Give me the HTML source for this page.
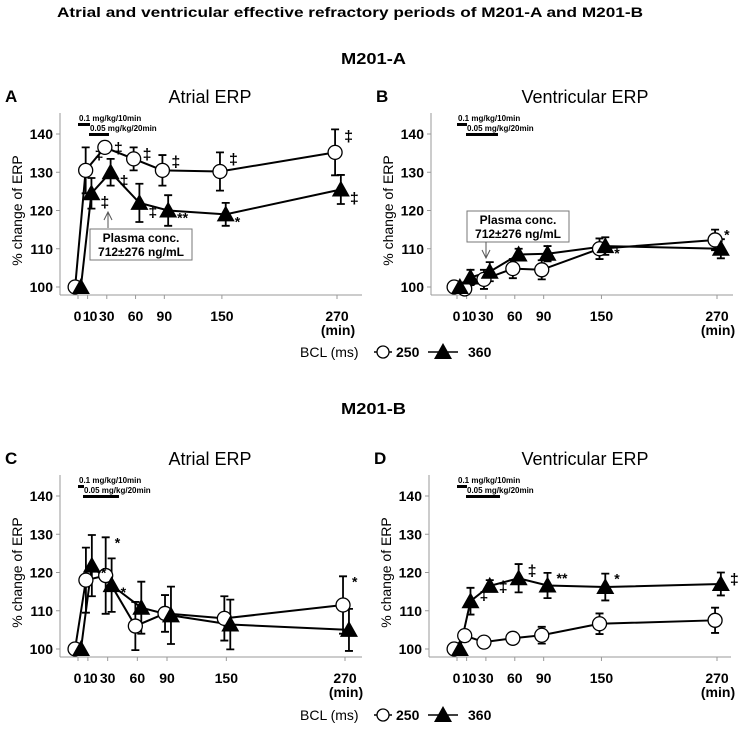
<!DOCTYPE html>
<html><head><meta charset="utf-8"><style>
body{margin:0;background:#fff}
svg{display:block;font-family:"Liberation Sans",sans-serif}
</style></head><body>
<svg id="c" width="740" height="736" viewBox="0 0 740 736">
<text x="57" y="17" font-size="14" font-weight="bold" textLength="586" lengthAdjust="spacingAndGlyphs">Atrial and ventricular effective refractory periods of M201-A and M201-B</text>
<text x="341" y="64" font-size="16" font-weight="bold" textLength="65" lengthAdjust="spacingAndGlyphs">M201-A</text>
<text x="341" y="414" font-size="16" font-weight="bold" textLength="65" lengthAdjust="spacingAndGlyphs">M201-B</text>
</svg>
<script>
const times=[0,10,30,60,90,150,270];
const yTicks=[100,110,120,130,140];
const xTickLabels=["0","10","30","60","90","150","270"];
const aCirc=[100,130.5,136.5,133.5,130.5,130.2,135.2];
const aCircErr=[0,6,1.5,3,4,5,6];
const aTri=[100,124.5,130,122,120,119,125.5];
const aTriErr=[0,4,3.5,5,4,3,3.8];
const bCirc=[100,99.5,102,104.8,104.5,110,112.3];
const bCircErr=[0,1,2.5,2.5,2.5,2.7,2.7];
const bTri=[100,102.5,104,108.5,108.7,110.7,110];
const bTriErr=[0,2,2.5,1.5,2,2.3,2.5];
const cCirc=[100,118,119.2,106,109.3,108,111.5];
const cCircErr=[0,8.5,10,6.3,4.8,5.8,7.5];
const cTri=[100,121.8,116.7,110.8,108.8,106.4,105];
const cTriErr=[0,8,7,6.8,7.5,6.5,5.5];
const dCirc=[100,103.5,101.8,102.8,103.6,106.6,107.5];
const dCircErr=[0,1.5,1.5,1.5,2.2,2.7,3.3];
const dTri=[100,112.5,116.5,118.5,116.6,116.2,117];
const dTriErr=[0,3.5,1.5,3.7,3.3,3.5,3];
const aMarks=[["",""],["‡","‡"],["‡","‡"],["‡","‡"],["‡","**"],["‡","*"],["‡","‡"]];
const bMarks=[["",""],["",""],["",""],["",""],["",""],["","*"],["*",""]];
const cMarks=[["",""],["","*"],["*","*"],["",""],["",""],["",""],["*",""]];
const dMarks=[["",""],["","‡"],["","‡"],["","‡"],["","**"],["","*"],["","‡"]];

const NS="http://www.w3.org/2000/svg";
const svg=document.getElementById('c');
function mk(tag,attrs,parent,txt){const e=document.createElementNS(NS,tag);for(const k in attrs)e.setAttribute(k,attrs[k]);if(txt!==undefined)e.textContent=txt;(parent||svg).appendChild(e);return e;}

function panel(p){
  const g=mk('g',{});
  
  
  const X=t=>p.x0+(t/270)*(p.x270-p.x0);
  const Y=v=>p.y100-(v-100)*(p.y100-p.y140)/40;
  let e=mk('text',{x:p.ax-55,y:p.y140-32,'font-size':17,'font-weight':'bold'},g,p.id.toUpperCase());
  
  e=mk('text',{x:p.titleX,y:p.y140-31,'font-size':18,'text-anchor':'middle'},g,p.title);
  
  e=mk('line',{x1:p.ax,y1:p.y140-21,x2:p.ax,y2:p.y100+8,stroke:'#999','stroke-width':1},g);
  
  e=mk('line',{x1:p.ax,y1:p.y100+8,x2:p.ax+302,y2:p.y100+8,stroke:'#999','stroke-width':1},g);
  
  yTicks.forEach(v=>{
    mk('line',{x1:p.ax-4,y1:Y(v),x2:p.ax,y2:Y(v),stroke:'#999'},g);
    e=mk('text',{x:p.ax-7,y:Y(v)+5,'font-size':14,'font-weight':'bold','text-anchor':'end'},g,v);
    
  });
  times.forEach((t,i)=>{
    mk('line',{x1:X(t),y1:p.y100+8,x2:X(t),y2:p.y100+12,stroke:'#999'},g);
    let tx=X(t);
    if(i===0){tx=X(0)-1;}
    if(i===1){tx=X(10)+2;}
    e=mk('text',{x:tx,y:p.y100+34,'font-size':14,'font-weight':'bold','text-anchor':'middle','letter-spacing':i<2?-1:0},g,xTickLabels[i]);
    
  });
  e=mk('text',{x:X(270)+1,y:p.y100+48,'font-size':14,'font-weight':'bold','text-anchor':'middle'},g,'(min)');
  
  e=mk('text',{transform:`translate(${p.ax-38},${(p.y100+p.y140)/2}) rotate(-90)`,'font-size':14,'text-anchor':'middle'},g,p.yTitle);
  
  const d=p.dose;
  mk('rect',{x:d[0],y:p.y140-11,width:d[1],height:3,fill:'#000'},g);
  e=mk('text',{x:d[0]+1,y:p.y140-13,'font-size':8,'font-weight':'bold'},g,'0.1 mg/kg/10min');
  
  mk('rect',{x:d[0]+d[1]-1,y:p.y140-1,width:d[2],height:3,fill:'#000'},g);
  e=mk('text',{x:d[0]+d[1],y:p.y140-3,'font-size':8,'font-weight':'bold'},g,'0.05 mg/kg/20min');
  
  if(p.box){
    const b=p.box;
    const bg=mk('g',{},g);
    
    mk('rect',{x:b[0],y:b[1],width:102,height:31,fill:'#fff',stroke:'#777'},bg);
    mk('text',{x:b[0]+51,y:b[1]+13,'font-size':12,'font-weight':'bold','text-anchor':'middle'},bg,'Plasma conc.');
    mk('text',{x:b[0]+51,y:b[1]+27,'font-size':12,'font-weight':'bold','text-anchor':'middle'},bg,'712±276 ng/mL');
    const ax=b[2],y1=b[3],y2=b[4],dir=y2<y1?1:-1;
    mk('line',{x1:ax,y1:y1,x2:ax,y2:y2,stroke:'#555'},bg);
    mk('polyline',{points:`${ax-4},${y2+dir*8} ${ax},${y2} ${ax+4},${y2+dir*8}`,fill:'none',stroke:'#555'},bg);
  }
  const series=[[p.circ,p.circErr,-2,'circle'],[p.tri,p.triErr,4,'triangle']];
  series.forEach(([vals,errs,off,shape],si)=>{
    const pts=vals.map((v,i)=>[X(times[i]+(i===0?(si?3:-3):off)),Y(v)]);
    e=mk('polyline',{points:pts.map(q=>q.join(',')).join(' '),fill:'none',stroke:'#000','stroke-width':2},g);
    
    vals.forEach((v,i)=>{
      if(errs[i]>0){
        const x=pts[i][0],t=Y(v+errs[i]),bt=Y(v-errs[i]);
        e=mk('path',{d:`M${x},${t}V${bt}M${x-4},${t}H${x+4}M${x-4},${bt}H${x+4}`,stroke:'#000','stroke-width':1.8,fill:'none'},g);
        
      }
    });
  });
  series.forEach(([vals,errs,off,shape],si)=>{
    vals.forEach((v,i)=>{
      const x=X(times[i]+(i===0?(si?3:-3):off)),y=Y(v);
      if(shape==='circle'){
        e=mk('circle',{cx:x,cy:y,r:7,fill:'#fff',stroke:'#000','stroke-width':1.3},g);
      } else {
        e=mk('polygon',{points:`${x},${y-9} ${x-9},${y+7} ${x+9},${y+7}`,fill:'#000'},g);
      }
      
      const m=p.marks[i]?p.marks[i][si]:'';
      if(m){
        let yy=(shape==='circle'||p.above)?Y(v+errs[i])+12:y+14;
        e=mk('text',{x:x+9,y:m==='‡'?yy:yy-2,'font-size':m==='‡'?16:14,'font-weight':'bold'},g,m);
        
      }
    });
  });
}
const topRow=[134,287],botRow=[496,649];
panel({id:'a',title:'Atrial ERP',titleX:210,yTitle:'% change of ERP',ax:60,x0:78,x270:337,y140:topRow[0],y100:topRow[1],circ:aCirc,circErr:aCircErr,tri:aTri,triErr:aTriErr,marks:aMarks,dose:[78,12,20],box:[90,229,108,228,212]});
panel({id:'b',title:'Ventricular ERP',titleX:585,yTitle:'% change of ERP',ax:431,x0:457,x270:717,y140:topRow[0],y100:topRow[1],circ:bCirc,circErr:bCircErr,tri:bTri,triErr:bTriErr,marks:bMarks,dose:[457,10,32],box:[467,211,486,242,258]});
panel({id:'c',title:'Atrial ERP',titleX:210,yTitle:'% change of  ERP',ax:60,x0:78,x270:345,y140:botRow[0],y100:botRow[1],circ:cCirc,circErr:cCircErr,tri:cTri,triErr:cTriErr,marks:cMarks,dose:[78,6,36]});
panel({id:'d',title:'Ventricular ERP',titleX:585,yTitle:'% change of ERP',ax:429,x0:457,x270:717,y140:botRow[0],y100:botRow[1],circ:dCirc,circErr:dCircErr,tri:dTri,triErr:dTriErr,marks:dMarks,dose:[457,10,34],above:true});
function legend(y){
  const g=mk('g',{});
  
  
  mk('text',{x:300,y:y+5,'font-size':14},g,'BCL (ms)');
  mk('line',{x1:374,y1:y,x2:392,y2:y,stroke:'#000','stroke-width':1.5},g);
  mk('circle',{cx:383,cy:y,r:6,fill:'#fff',stroke:'#000','stroke-width':1.3},g);
  let e=mk('text',{x:396,y:y+5,'font-size':14,'font-weight':'bold'},g,'250');
  
  mk('line',{x1:428,y1:y,x2:458,y2:y,stroke:'#000','stroke-width':1.5},g);
  mk('polygon',{points:`443,${y-9} 434,${y+7} 452,${y+7}`,fill:'#000'},g);
  e=mk('text',{x:468,y:y+5,'font-size':14,'font-weight':'bold'},g,'360');
  
}
legend(352);legend(715);
</script>
</body></html>
